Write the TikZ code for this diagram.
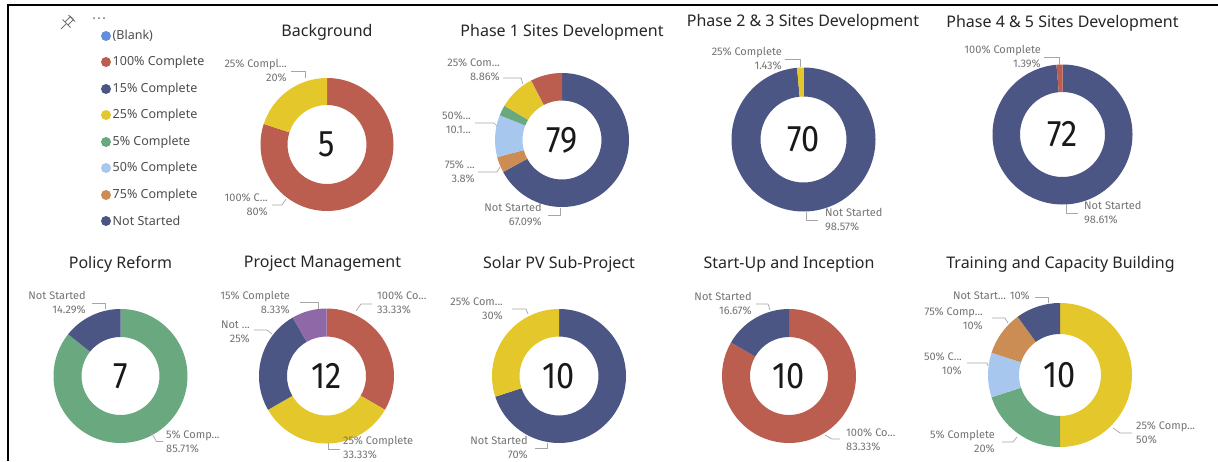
\documentclass[tikz,border=0pt]{standalone}
\usepackage{fontspec}
\setmainfont{Noto Sans}
\newfontfamily\chartfont{Fira Sans}
\usetikzlibrary{calc}

\definecolor{pbiblank}{RGB}{100,141,222}
\definecolor{pbired}{RGB}{187,94,80}
\definecolor{pbinavy}{RGB}{76,86,133}
\definecolor{pbiyellow}{RGB}{228,199,42}
\definecolor{pbigreen}{RGB}{106,168,127}
\definecolor{pbilight}{RGB}{168,199,238}
\definecolor{pbitan}{RGB}{203,141,84}
\definecolor{pbipurple}{RGB}{143,104,168}

\tikzset{
	title/.style={font=\fontsize{16}{19}\selectfont, text=black!85, inner sep=0pt},
	count/.style={font=\chartfont\fontsize{37}{40}\selectfont, text=black!90, inner sep=0pt},
	lbl/.style={font=\chartfont\fontsize{11}{14}\selectfont, text=black!55, inner sep=0pt},
	leader/.style={draw=black!35, line width=0.7pt},
	legend/.style={font=\fontsize{12.5}{15}\selectfont, text=black!70, anchor=west, inner sep=0pt},
	pin/.style={draw=black!55, line width=0.8pt, line join=round}
}

% centre, outer, inner, from, to, colour
\newcommand{\donutpart}[6]{%
	\fill[#6] ($(#1)+(#4:#2)$) arc[start angle=#4, end angle=#5, radius=#2]
		-- ($(#1)+(#5:#3)$) arc[start angle=#5, end angle=#4, radius=#3] -- cycle;}
\newcommand{\countnum}[1]{\scalebox{0.88}[1]{#1}}

\begin{document}
\begin{tikzpicture}[x=1pt, y=-1pt]
	\useasboundingbox (0,0) rectangle (1218,461);
	\draw[line width=2pt] (8,461) -- (8,5) -- (1218,5);

	% pin and menu
	\draw[pin] (61,29) -- (66,24);
	\draw[pin] (62.5,19.5) -- (70.5,27.5);
	\draw[pin] (65,22) -- (70.5,16.5) -- (73.5,19.5) -- (68,25);
	\draw[pin] (68.5,15) -- (75,21.5);
	\foreach \x in {94,99,104}
		\fill[black!55] (\x,18) circle[radius=1];

	% legend
	\foreach \y/\c/\t [count=\i] in {36/pbiblank/(Blank), 62/pbired/100\% Complete, 89/pbinavy/15\% Complete,
		115/pbiyellow/25\% Complete, 142/pbigreen/5\% Complete, 168/pbilight/50\% Complete,
		195/pbitan/75\% Complete, 221/pbinavy/Not Started} {
		\fill[\c] (106,\y) circle[radius=5];
		\node[legend] (leg\i) at (112.5,\y) {\t};
	}

	% Background
	\coordinate (bg) at (327,144.5);
	\donutpart{bg}{66.5}{39.5}{-90}{198}{pbired}
	\donutpart{bg}{66.5}{39.5}{198}{270}{pbiyellow}
	\node[count] (bgn) at (bg) {\countnum{5}};
	\node[title] (bgt) at (327,32) {Background};
	\node[lbl, anchor=east, align=right] (bgl1) at (287,71) {25\% Compl...\\20\%};
	\node[lbl, anchor=east, align=right] (bgl2) at (268,205) {100\% C...\\80\%};
	\draw[leader] (291,71) -- (305,71) -- (305,78);
	\draw[leader] (272,205) -- (282,205) -- (286,199);

	% Phase 1
	\coordinate (pa) at (562,140);
	\donutpart{pa}{67}{39.5}{-90}{151.52}{pbinavy}
	\donutpart{pa}{67}{39.5}{151.52}{165.19}{pbitan}
	\donutpart{pa}{67}{39.5}{165.19}{201.65}{pbilight}
	\donutpart{pa}{67}{39.5}{201.65}{210.76}{pbigreen}
	\donutpart{pa}{67}{39.5}{210.76}{242.66}{pbiyellow}
	\donutpart{pa}{67}{39.5}{242.66}{270}{pbired}
	\node[count] (pan) at (pa) {\countnum{79}};
	\node[title] (pat) at (562,32) {Phase 1 Sites Development};
	\node[lbl, anchor=east, align=right] (pal1) at (500,70) {25\% Com...\\8.86\%};
	\node[lbl, anchor=east, align=right] (pal2) at (471,123) {50\%...\\10.1...};
	\node[lbl, anchor=east, align=right] (pal3) at (475,172) {75\% ...\\3.8\%};
	\node[lbl, anchor=east, align=right] (pal4) at (542,215) {Not Started\\67.09\%};
	\draw[leader] (503,78) -- (521,78) -- (523,84);
	\draw[leader] (475,123) -- (494,123) -- (497,126);
	\draw[leader] (478,172) -- (497,172) -- (500,167);
	\draw[leader] (548,215) -- (560,215) -- (560,208);

	% Phase 2 & 3
	\coordinate (pb) at (803.5,139.5);
	\donutpart{pb}{72}{43}{-90}{264.85}{pbinavy}
	\donutpart{pb}{72}{43}{264.85}{270}{pbiyellow}
	\node[count] (pbn) at (pb) {\countnum{70}};
	\node[title] (pbt) at (803,22.5) {Phase 2 \& 3 Sites Development};
	\node[lbl, anchor=east, align=right] (pbl1) at (782,59) {25\% Complete\\1.43\%};
	\node[lbl, anchor=west, align=left] (pbl2) at (825,220) {Not Started\\98.57\%};
	\draw[leader] (785,59) -- (800,59) -- (800,67);
	\draw[leader] (806.5,212) -- (806.5,220) -- (818,220);

	% Phase 4 & 5
	\coordinate (pc) at (1062.5,134.5);
	\donutpart{pc}{70}{42.5}{-90}{265}{pbinavy}
	\donutpart{pc}{70}{42.5}{265}{270}{pbired}
	\node[count] (pcn) at (pc) {\countnum{72}};
	\node[title] (pct) at (1062.5,23) {Phase 4 \& 5 Sites Development};
	\node[lbl, anchor=east, align=right] (pcl1) at (1041,57) {100\% Complete\\1.39\%};
	\node[lbl, anchor=west, align=left] (pcl2) at (1084,213) {Not Started\\98.61\%};
	\draw[leader] (1044,57) -- (1059,57) -- (1059,65);
	\draw[leader] (1066,204) -- (1066,213) -- (1078,213);

	% Policy Reform
	\coordinate (pr) at (120.5,376);
	\donutpart{pr}{67}{39}{-90}{218.57}{pbigreen}
	\donutpart{pr}{67}{39}{218.57}{270}{pbinavy}
	\node[count] (prn) at (pr) {\countnum{7}};
	\node[title] (prt) at (120.5,264) {Policy Reform};
	\node[lbl, anchor=east, align=right] (prl1) at (86,303) {Not Started\\14.29\%};
	\node[lbl, anchor=west, align=left] (prl2) at (166,442) {5\% Comp...\\85.71\%};
	\draw[leader] (92,303) -- (105,303) -- (105,309);
	\draw[leader] (151.5,433) -- (156.5,441.5) -- (163,441.5);

	% Project Management
	\coordinate (pm) at (326.5,376);
	\donutpart{pm}{67.5}{39.5}{-90}{30}{pbired}
	\donutpart{pm}{67.5}{39.5}{30}{150}{pbiyellow}
	\donutpart{pm}{67.5}{39.5}{150}{240}{pbinavy}
	\donutpart{pm}{67.5}{39.5}{240}{270}{pbipurple}
	\node[count] (pmn) at (pm) {\countnum{12}};
	\node[title] (pmt) at (322.5,264) {Project Management};
	\node[lbl, anchor=east, align=right] (pml1) at (290,303) {15\% Complete\\8.33\%};
	\node[lbl, anchor=east, align=right] (pml2) at (250,332) {Not ...\\25\%};
	\node[lbl, anchor=west, align=left] (pml3) at (377,303) {100\% Co...\\33.33\%};
	\node[lbl, anchor=west, align=left] (pml4) at (343,447.5) {25\% Complete\\33.33\%};
	\draw[leader] (300,302) -- (318,302) -- (318,309);
	\draw[leader] (254,330) -- (267,330) -- (272,334);
	\draw[leader] (356,311) -- (361,304) -- (372,304);
	\draw[leader] (328.5,443) -- (328.5,449) -- (340,449);

	% Solar PV
	\coordinate (sp) at (559,376);
	\donutpart{sp}{67}{39.5}{-90}{162}{pbinavy}
	\donutpart{sp}{67}{39.5}{162}{270}{pbiyellow}
	\node[count] (spn) at (sp) {\countnum{10}};
	\node[title] (spt) at (559,264) {Solar PV Sub-Project};
	\node[lbl, anchor=east, align=right] (spl1) at (503,309) {25\% Com...\\30\%};
	\node[lbl, anchor=east, align=right] (spl2) at (528,447.5) {Not Started\\70\%};
	\draw[leader] (512,309) -- (526,309) -- (528,314);
	\draw[leader] (535,448) -- (547,448) -- (547,443);

	% Start-Up
	\coordinate (su) at (789,376);
	\donutpart{su}{67}{39}{-90}{210}{pbired}
	\donutpart{su}{67}{39}{210}{270}{pbinavy}
	\node[count] (sun) at (su) {\countnum{10}};
	\node[title] (sut) at (789,264) {Start-Up and Inception};
	\node[lbl, anchor=east, align=right] (sul1) at (752,304) {Not Started\\16.67\%};
	\node[lbl, anchor=west, align=left] (sul2) at (846,440) {100\% Co...\\83.33\%};
	\draw[leader] (756,304) -- (768,304) -- (770,310);
	\draw[leader] (825,435) -- (832,439) -- (840,439);

	% Training
	\coordinate (tc) at (1060,375);
	\donutpart{tc}{72}{41}{-90}{90}{pbiyellow}
	\donutpart{tc}{72}{41}{90}{162}{pbigreen}
	\donutpart{tc}{72}{41}{162}{198}{pbilight}
	\donutpart{tc}{72}{41}{198}{234}{pbitan}
	\donutpart{tc}{72}{41}{234}{270}{pbinavy}
	\node[count] (tcn) at (tc) {\countnum{10}};
	\node[title] (tct) at (1060.5,264) {Training and Capacity Building};
	\node[lbl, anchor=east] (tcl1) at (1030,296) {Not Start... 10\%};
	\node[lbl, anchor=east, align=right] (tcl2) at (983,319) {75\% Comp...\\10\%};
	\node[lbl, anchor=east, align=right] (tcl3) at (962,364) {50\% C...\\10\%};
	\node[lbl, anchor=east, align=right] (tcl4) at (995,442) {5\% Complete\\20\%};
	\node[lbl, anchor=west, align=left] (tcl5) at (1136,433) {25\% Comp...\\50\%};
	\draw[leader] (1035,297) -- (1048,297) -- (1048,303);
	\draw[leader] (992,318) -- (1005,318) -- (1008,323);
	\draw[leader] (967,363) -- (987,363) -- (988,366);
	\draw[leader] (1002,442) -- (1013,442) -- (1017,437);
	\draw[leader] (1113,428) -- (1120,433) -- (1132,433);
\end{tikzpicture}
\end{document}
